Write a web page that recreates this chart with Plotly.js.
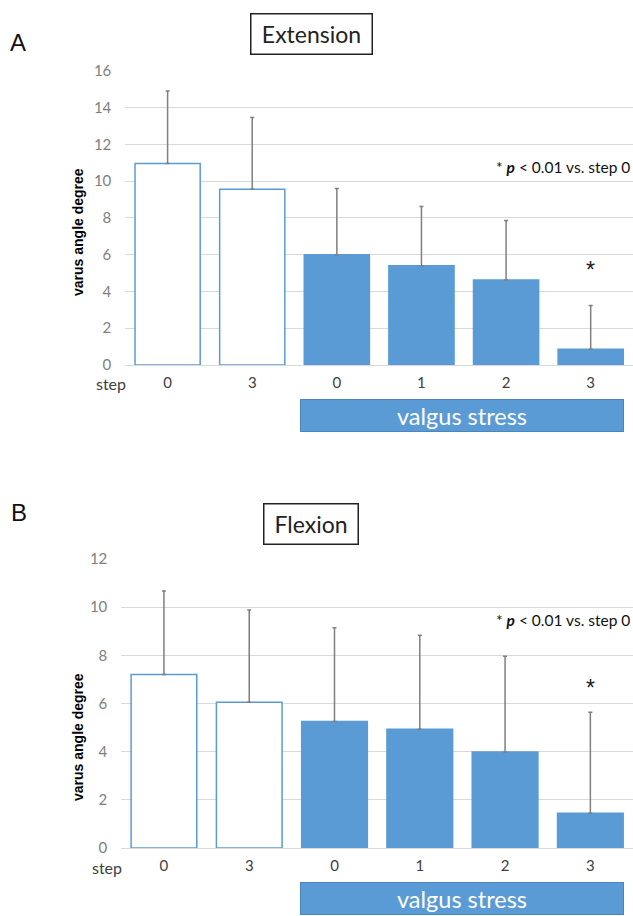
<!DOCTYPE html>
<html><head><meta charset="utf-8">
<script src="https://cdn.plot.ly/plotly-3.0.1.min.js"></script>
<style>html,body{margin:0;padding:0;background:#fff}#chart{width:633px;height:916px}</style>
</head><body><div id="chart"></div>
<script>
// ---- data ----
const stepLabels = ['0', '3', '0', '1', '2', '3'];
const extMean = [10.95, 9.55, 6.0, 5.4, 4.62, 0.85];
const extSD   = [3.95, 3.9, 3.6, 3.22, 3.24, 2.39];
const flexMean = [7.2, 6.05, 5.25, 4.93, 3.99, 1.44];
const flexSD   = [3.47, 3.83, 3.9, 3.9, 3.97, 4.2];
const sigMarks = ['', '', '', '', '', '*'];
const barFill = ['#ffffff', '#ffffff', '#5b9bd5', '#5b9bd5', '#5b9bd5', '#5b9bd5'];
const panelTitles = ['Extension', 'Flexion'];
const panelLetters = ['A', 'B'];
const yTitle = 'varus angle degree';
const groupLabel = 'valgus stress';
const noteText = '* <b><i>p</i></b> &lt; 0.01 vs. step 0';

// ---- layout helpers (pixels -> paper) ----
const W = 633, H = 916;
const px = v => v / W;
const py = v => 1 - v / H;
const idx = stepLabels.map((_, i) => i);
const BLUE = '#5b9bd5';
const FONT = 'Lato, "Open Sans", sans-serif';
const ARIAL = '"Liberation Sans", Arial, sans-serif';

function barTrace(mean, sd, xa, ya) {
  return {
    type: 'bar', x: idx, y: mean, xaxis: xa, yaxis: ya,
    marker: { color: barFill, line: { color: BLUE, width: 1.5 } },
    error_y: { type: 'data', symmetric: false, array: sd, arrayminus: mean.map(() => 0),
               color: '#7f7f7f', thickness: 1.5, width: 2 },
    hoverinfo: 'skip', showlegend: false
  };
}
function starAnn(mean, sd, xa, ya, shift) {
  return sigMarks.map((m, i) => m ? {
    xref: xa, yref: ya, x: idx[i], y: mean[i] + sd[i], text: m, showarrow: false,
    xanchor: 'center', yanchor: 'middle',
    yshift: shift, font: { family: ARIAL, size: 23, color: '#222' }
  } : null).filter(Boolean);
}
function ann(o) { return Object.assign({ xref: 'paper', yref: 'paper', showarrow: false,
  xanchor: 'center', yanchor: 'middle' }, o); }

const traces = [barTrace(extMean, extSD, 'x', 'y'), barTrace(flexMean, flexSD, 'x2', 'y2')];

const xCommon = {
  tickmode: 'array', tickvals: idx, ticktext: stepLabels, range: [-0.5, 5.5],
  showgrid: false, zeroline: false, showline: false, ticks: '',
  tickfont: { family: FONT, size: 15, color: '#404040' }, ticklabelstandoff: 7, fixedrange: true
};
const yCommon = {
  showgrid: true, gridcolor: '#d9d9d9', gridwidth: 1, zeroline: true, zerolinecolor: '#d9d9d9',
  zerolinewidth: 1, showline: false, ticks: '', dtick: 2,
  tickfont: { family: FONT, size: 15, color: '#808080' }, ticklabelstandoff: 13, fixedrange: true
};

const layout = {
  width: W, height: H, margin: { l: 0, r: 0, t: 0, b: 0 },
  paper_bgcolor: '#fff', plot_bgcolor: 'rgba(0,0,0,0)', bargap: 0.23, showlegend: false,
  xaxis: Object.assign({}, xCommon, { domain: [px(125.3), 1], anchor: 'y' }),
  yaxis: Object.assign({}, yCommon, { domain: [py(365), py(70.7)], range: [0, 16], anchor: 'x' }),
  xaxis2: Object.assign({}, xCommon, { domain: [px(121.3), 1], anchor: 'y2' }),
  yaxis2: Object.assign({}, yCommon, { domain: [py(848), py(559)], range: [0, 12], anchor: 'x2' }),
  annotations: [
    // panel letters
    ann({ x: px(18), y: py(42), text: panelLetters[0], font: { family: ARIAL, size: 24, color: '#111' } }),
    ann({ x: px(19), y: py(512), text: panelLetters[1], font: { family: ARIAL, size: 24, color: '#111' } }),
    // titled boxes
    ann({ x: px(311), y: py(34), text: panelTitles[0], width: 120, height: 39,
      bordercolor: '#222', borderwidth: 1.5, borderpad: 0, font: { family: FONT, size: 23, color: '#222' } }),
    ann({ x: px(311), y: py(524), text: panelTitles[1], width: 93, height: 39,
      bordercolor: '#222', borderwidth: 1.5, borderpad: 0, font: { family: FONT, size: 23, color: '#222' } }),
    // y titles
    ann({ x: px(78), y: py(232), text: '<b>' + yTitle + '</b>', textangle: -90, font: { family: ARIAL, size: 14, color: '#000' } }),
    ann({ x: px(78), y: py(737), text: '<b>' + yTitle + '</b>', textangle: -90, font: { family: ARIAL, size: 14, color: '#000' } }),
    // "step"
    ann({ x: px(128), y: py(383), xanchor: 'right', text: 'step', font: { family: FONT, size: 16, color: '#404040' } }),
    ann({ x: px(124), y: py(867), xanchor: 'right', text: 'step', font: { family: FONT, size: 16, color: '#404040' } }),
    // notes
    ann({ x: px(632), y: py(167), xanchor: 'right', text: noteText, font: { family: FONT, size: 15.5, color: '#111' } }),
    ann({ x: px(632), y: py(620), xanchor: 'right', text: noteText, font: { family: FONT, size: 15.5, color: '#111' } }),
    // valgus stress boxes
    ann({ x: px(462), y: py(415.5), text: groupLabel, width: 322, height: 31, bgcolor: BLUE,
      bordercolor: '#4a86bd', borderwidth: 1, borderpad: 0, font: { family: FONT, size: 23.5, color: '#fff' } }),
    ann({ x: px(462), y: py(898.5), text: groupLabel, width: 322, height: 31, bgcolor: BLUE,
      bordercolor: '#4a86bd', borderwidth: 1, borderpad: 0, font: { family: FONT, size: 23.5, color: '#fff' } })
  ].concat(starAnn(extMean, extSD, 'x', 'y', 35), starAnn(flexMean, flexSD, 'x2', 'y2', 24))
};

Plotly.newPlot('chart', traces, layout, { staticPlot: true, displayModeBar: false });
</script>
</body></html>
